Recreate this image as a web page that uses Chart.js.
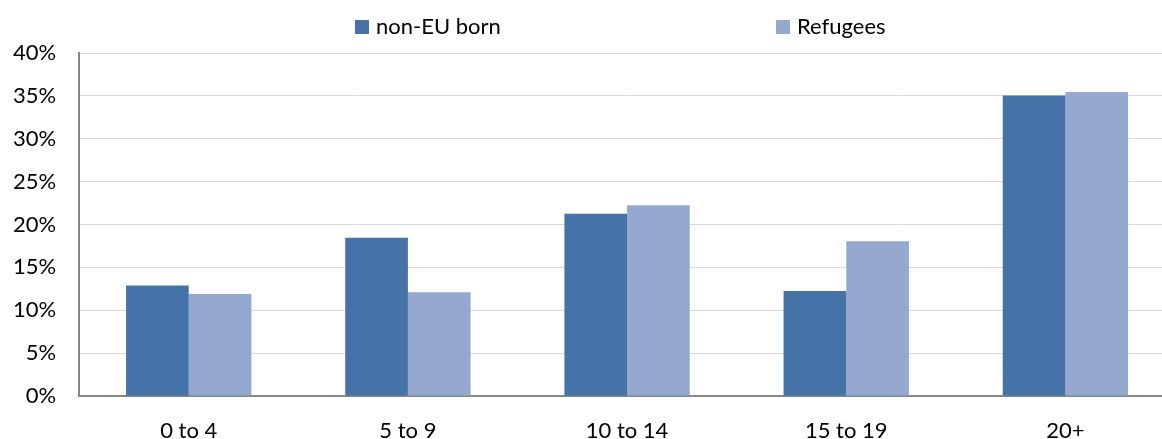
<!DOCTYPE html>
<html>
<head>
<meta charset="utf-8">
<script src="https://cdn.jsdelivr.net/npm/chart.js@4"></script>
<style>
  html, body { margin: 0; padding: 0; background: #fff; overflow: hidden; }
  #wrap { position: relative; width: 1162px; height: 439px; overflow: hidden; }
  .leg { position: absolute; top: 12px; font-family: Lato, sans-serif; font-size: 22px; color: #000; white-space: nowrap; }
  .leg span { display: inline-block; width: 14px; height: 14px; margin-right: 7px; vertical-align: 0px; }
</style>
</head>
<body>
<div id="wrap">
  <!-- canvas wider than the window: the original plot is cut off on the right -->
  <canvas id="ageCanvas" width="1175" height="439"></canvas>
  <div id="legend"></div>
</div>
<script>
var categories = ["0 to 4", "5 to 9", "10 to 14", "15 to 19", "20+"];
var nonEuBorn = [12.9, 18.45, 21.25, 12.25, 35.05];
var refugees = [11.9, 12.1, 22.25, 18.05, 35.45];
var seriesNames = ["non-EU born", "Refugees"];
var seriesColors = ["#4573a7", "#95a9d0"];
var legendX = [355, 776];

document.addEventListener("DOMContentLoaded", function () {
  var ctx = document.getElementById("ageCanvas").getContext("2d");
  var ageChart = new Chart(ctx, {
    type: "bar",
    data: {
      labels: categories,
      datasets: [
        { label: seriesNames[0], data: nonEuBorn, backgroundColor: seriesColors[0] },
        { label: seriesNames[1], data: refugees, backgroundColor: seriesColors[1] },
      ],
    },
    options: {
      responsive: false,
      animation: false,
      layout: { padding: { top: 53, right: 0, left: -10, bottom: -27 } },
      datasets: { bar: { barPercentage: 1, categoryPercentage: 0.572 } },
      plugins: { legend: { display: false }, tooltip: { enabled: false } },
      scales: {
        x: {
          grid: { display: false, drawTicks: false },
          border: { color: "#868686", width: 2 },
          ticks: { color: "#000", padding: 24, font: { family: "Lato", size: 22, lineHeight: 1 } },
        },
        y: {
          min: 0,
          max: 40,
          ticks: {
            stepSize: 5,
            color: "#000",
            padding: 23,
            font: { family: "Lato", size: 22 },
            callback: function (v) { return v + "%"; },
          },
          grid: { color: "#d9d9d9", drawTicks: false },
          border: { color: "#868686", width: 2 },
        },
      },
    },
  });

  // legend as html, taken from the datasets
  var legend = document.getElementById("legend");
  ageChart.data.datasets.forEach(function (ds, i) {
    var d = document.createElement("div");
    d.className = "leg";
    d.style.left = legendX[i] + "px";
    d.innerHTML = '<span style="background:' + ds.backgroundColor + '"></span>' + ds.label;
    legend.appendChild(d);
  });
});
</script>
</body>
</html>
